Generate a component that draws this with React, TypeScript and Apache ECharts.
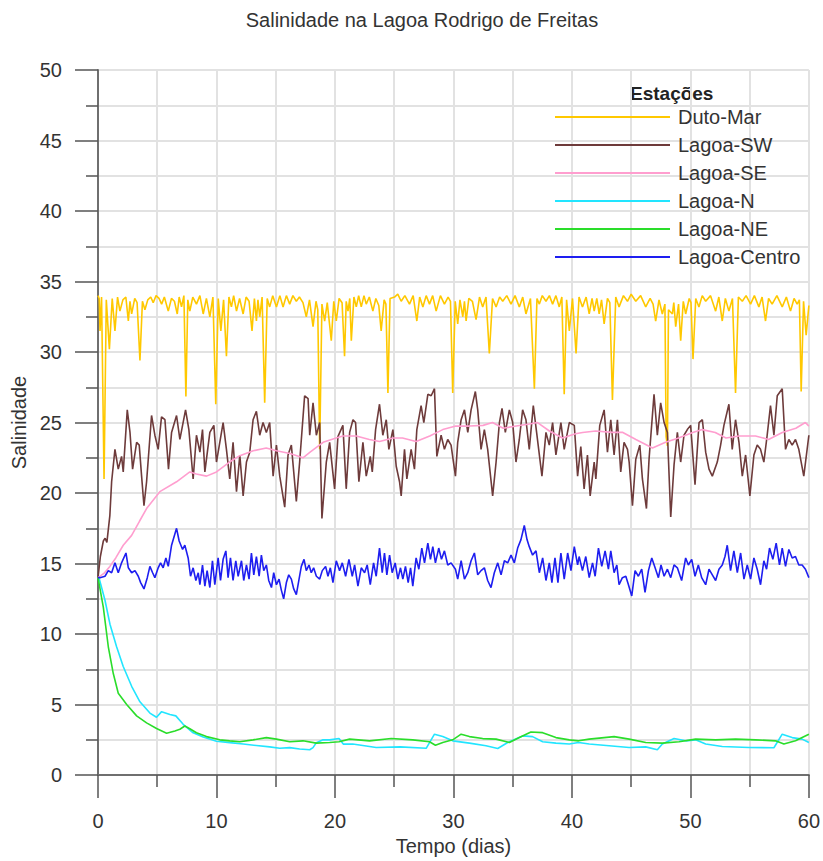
import React, { useEffect, useRef } from "react";
import * as echarts from "echarts";

const TITLE = "Salinidade na Lagoa Rodrigo de Freitas";
const LEGEND_TITLE = "Estações";
const X_NAME = "Tempo (dias)";
const Y_NAME = "Salinidade";
const SERIES_NAMES = ["Duto-Mar", "Lagoa-SW", "Lagoa-SE", "Lagoa-N", "Lagoa-NE", "Lagoa-Centro"];
const SERIES_COLORS = ["#FFC800", "#6E3B3B", "#FF9ECF", "#22E5FF", "#2ADD2A", "#1E1EF0"];

// [tempo (dias), salinidade]
const dutoMar: number[][] = [
  [0, 34.0], [0.1, 33.8], [0.17, 31.5], [0.3, 33.9], [0.51, 21.0], [0.7, 33.7], [0.96, 30.2], [1.2, 33.8], [1.43, 31.5], [1.65, 33.9],
  [1.85, 32.9], [2.1, 33.7], [2.35, 33.9], [2.56, 32.2], [2.7, 33.6], [2.84, 32.7], [3.1, 33.8], [3.3, 33.5], [3.54, 29.4], [3.75, 33.6],
  [3.96, 33.0], [4.2, 33.7], [4.45, 33.9], [4.66, 33.5], [4.9, 34.0], [5.15, 33.8], [5.37, 33.4], [5.6, 33.9], [5.93, 32.9], [6.2, 33.8],
  [6.45, 33.6], [6.69, 32.7], [6.85, 33.9], [7.05, 33.2], [7.25, 34.0], [7.42, 26.85], [7.58, 33.7], [7.75, 32.9], [8.0, 33.9], [8.31, 33.4],
  [8.6, 34.0], [8.88, 32.7], [9.15, 33.8], [9.44, 32.5], [9.7, 33.9], [9.94, 26.3], [10.15, 33.8], [10.37, 31.5], [10.6, 33.7], [10.84, 29.7],
  [11.05, 33.9], [11.26, 33.2], [11.45, 34.0], [11.69, 32.9], [11.95, 33.8], [12.25, 32.7], [12.5, 33.9], [12.75, 33.6], [13.0, 31.5], [13.2, 33.8],
  [13.37, 32.2], [13.5, 33.7], [13.65, 32.5], [13.85, 33.9], [14.07, 26.4], [14.28, 33.8], [14.49, 33.2], [14.75, 34.0], [15.06, 33.2], [15.35, 34.0],
  [15.62, 33.2], [15.9, 34.0], [16.18, 33.4], [16.45, 34.0], [16.74, 33.6], [17.0, 33.9], [17.3, 33.5], [17.58, 32.5], [17.85, 33.7], [18.15, 31.8],
  [18.4, 33.6], [18.55, 33.0], [18.71, 23.1], [18.9, 33.4], [19.13, 32.2], [19.35, 33.5], [19.69, 30.8], [19.9, 33.6], [20.11, 32.2], [20.35, 33.8],
  [20.6, 33.5], [20.81, 29.7], [20.95, 33.6], [21.1, 32.9], [21.25, 33.8], [21.38, 30.8], [21.6, 33.9], [21.8, 33.2], [22.0, 34.0], [22.22, 33.2],
  [22.45, 34.0], [22.64, 33.4], [22.9, 33.9], [23.2, 32.9], [23.45, 33.8], [23.7, 33.3], [23.9, 31.5], [24.15, 33.7], [24.3, 33.4], [24.47, 27.1],
  [24.65, 33.8], [25.03, 33.9], [25.3, 34.1], [25.59, 33.6], [25.9, 34.0], [26.29, 33.4], [26.6, 34.0], [26.91, 32.2], [27.15, 33.9], [27.42, 33.2],
  [27.7, 34.0], [27.98, 33.4], [28.25, 34.0], [28.54, 32.9], [28.9, 34.0], [29.24, 33.4], [29.55, 33.9], [29.75, 33.6], [29.94, 27.1], [30.15, 33.6],
  [30.36, 32.0], [30.55, 33.7], [30.79, 32.5], [30.93, 33.6], [31.07, 32.2], [31.3, 33.8], [31.6, 33.6], [31.91, 32.3], [32.2, 33.9], [32.47, 33.2],
  [32.75, 33.9], [33.03, 29.9], [33.3, 33.8], [33.6, 33.2], [33.9, 33.9], [34.16, 33.6], [34.5, 34.0], [34.86, 33.4], [35.2, 34.0], [35.56, 33.2],
  [35.85, 33.9], [36.12, 32.7], [36.5, 33.8], [36.83, 27.4], [37.05, 33.8], [37.25, 33.4], [37.5, 34.0], [37.81, 33.6], [38.1, 34.0], [38.37, 33.4],
  [38.65, 34.0], [38.93, 33.2], [39.15, 33.9], [39.35, 27.0], [39.55, 33.7], [39.78, 31.5], [40.05, 33.8], [40.35, 29.9], [40.6, 33.9], [40.89, 33.2],
  [41.2, 33.9], [41.46, 32.7], [41.7, 33.8], [41.88, 32.9], [42.1, 33.8], [42.3, 32.7], [42.5, 33.7], [42.72, 32.0], [43.0, 33.8], [43.2, 33.5],
  [43.42, 26.6], [43.7, 33.9], [43.98, 33.2], [44.35, 34.0], [44.69, 33.6], [45.0, 34.1], [45.39, 33.6], [45.8, 34.0], [46.23, 33.2], [46.6, 33.8],
  [46.85, 33.4], [47.07, 32.2], [47.35, 33.7], [47.63, 32.7], [47.85, 33.4], [47.95, 24.0], [48.06, 23.35], [48.15, 33.0], [48.48, 32.7], [48.6, 33.5],
  [48.76, 31.8], [49.0, 33.4], [49.18, 30.8], [49.4, 33.6], [49.6, 32.7], [49.9, 33.8], [50.05, 33.5], [50.22, 29.5], [50.45, 33.8], [50.72, 33.2],
  [51.0, 34.0], [51.29, 33.6], [51.7, 34.0], [52.13, 32.9], [52.4, 33.9], [52.69, 32.2], [52.95, 33.8], [53.25, 32.9], [53.55, 33.8], [53.81, 27.1],
  [54.05, 33.9], [54.38, 33.6], [54.7, 34.0], [55.08, 33.4], [55.4, 34.0], [55.78, 33.2], [56.05, 33.9], [56.34, 32.2], [56.6, 33.8], [56.9, 33.4],
  [57.3, 34.0], [57.75, 33.2], [58.1, 33.9], [58.45, 32.9], [58.75, 33.8], [59.01, 33.4], [59.2, 33.7], [59.35, 27.2], [59.55, 33.6], [59.77, 31.2],
  [60, 33.3],
];

const lagoaSW: number[][] = [
  [0, 14], [0.2, 15.5], [0.45, 16.6], [0.6, 16.8], [0.75, 16.5], [1.0, 18.4], [1.15, 20.8], [1.43, 23.1], [1.71, 21.7], [1.99, 22.6],
  [2.13, 21.5], [2.47, 25.9], [2.7, 24.3], [2.92, 21.7], [3.26, 23.6], [3.48, 23.4], [3.68, 21.2], [3.88, 19.1], [4.1, 20.8], [4.52, 25.5],
  [4.8, 24.1], [5.08, 23.1], [5.36, 25.4], [5.65, 25.2], [5.95, 21.7], [6.21, 24.3], [6.63, 25.5], [6.91, 23.8], [7.39, 25.9], [7.67, 24.5],
  [8.03, 21.0], [8.31, 24.1], [8.6, 22.9], [8.82, 24.5], [9.02, 21.5], [9.44, 24.3], [9.78, 24.8], [10.0, 22.2], [10.56, 25.0], [10.84, 23.1],
  [11.12, 21.0], [11.4, 23.6], [11.69, 20.1], [11.97, 22.7], [12.25, 19.8], [12.53, 22.2], [12.81, 22.9], [13.09, 25.2], [13.37, 25.8], [13.65, 24.1],
  [13.93, 25.0], [14.21, 24.3], [14.49, 25.0], [14.78, 21.2], [15.06, 23.4], [15.34, 21.2], [15.76, 19.0], [16.04, 22.7], [16.32, 23.4], [16.74, 19.4],
  [17.02, 22.2], [17.44, 26.9], [17.73, 26.7], [17.87, 24.1], [18.15, 26.4], [18.43, 24.1], [18.71, 25.0], [18.9, 18.2], [19.27, 22.2], [19.55, 23.6],
  [19.97, 20.3], [20.25, 24.0], [20.67, 24.8], [20.95, 20.3], [21.24, 24.3], [21.52, 25.2], [21.74, 25.0], [22.02, 20.8], [22.36, 23.6], [22.64, 21.2],
  [22.98, 22.6], [23.15, 21.5], [23.43, 24.5], [23.76, 26.3], [24.04, 24.1], [24.33, 25.2], [24.55, 23.1], [24.89, 24.5], [25.17, 21.9], [25.45, 20.8],
  [25.59, 19.8], [25.87, 23.1], [26.07, 21.0], [26.43, 23.1], [26.71, 21.7], [26.91, 24.5], [27.27, 26.2], [27.5, 25.0], [27.84, 27.0], [28.12, 26.9],
  [28.4, 27.4], [28.6, 22.6], [28.96, 24.1], [29.24, 23.1], [29.52, 23.8], [29.8, 23.4], [30.17, 21.2], [30.36, 23.6], [30.65, 25.2], [30.93, 25.9],
  [31.21, 24.3], [31.49, 25.9], [31.85, 27.2], [32.05, 25.9], [32.33, 23.1], [32.61, 24.5], [32.89, 23.1], [33.31, 19.8], [33.6, 22.2], [33.88, 25.0],
  [34.1, 26.0], [34.38, 24.3], [34.72, 25.9], [35.0, 25.0], [35.28, 22.2], [35.56, 23.8], [35.84, 25.9], [36.12, 25.2], [36.4, 23.1], [36.74, 26.2],
  [37.02, 24.3], [37.47, 21.2], [37.81, 24.3], [38.09, 23.4], [38.37, 25.0], [38.65, 22.7], [39.07, 25.0], [39.35, 23.1], [39.78, 25.0], [40.2, 24.8],
  [40.48, 21.2], [40.75, 23.3], [41.03, 20.3], [41.31, 22.7], [41.54, 19.8], [41.88, 22.2], [42.02, 21.0], [42.35, 24.8], [42.72, 25.9], [43.0, 22.9],
  [43.28, 25.2], [43.56, 22.7], [43.84, 25.2], [44.12, 21.5], [44.4, 23.6], [44.69, 23.1], [44.83, 22.2], [45.11, 19.1], [45.39, 22.4], [45.73, 23.4],
  [45.95, 21.0], [46.29, 18.9], [46.51, 22.4], [46.93, 27.0], [47.21, 24.1], [47.49, 26.4], [47.78, 25.0], [48.06, 24.3], [48.34, 18.3], [48.62, 22.0],
  [48.9, 24.3], [49.18, 22.2], [49.46, 24.1], [49.74, 24.5], [50.02, 24.8], [50.39, 20.6], [50.73, 25.0], [51.01, 25.2], [51.29, 22.9], [51.57, 21.7],
  [51.85, 21.2], [52.27, 22.2], [52.55, 23.4], [52.83, 24.8], [53.25, 26.3], [53.53, 23.1], [53.81, 25.2], [54.1, 23.6], [54.38, 21.2], [54.66, 22.7],
  [55.02, 19.8], [55.36, 22.7], [55.64, 23.4], [55.92, 23.1], [56.2, 22.2], [56.48, 24.1], [56.76, 26.2], [57.05, 24.1], [57.33, 26.9], [57.75, 27.4],
  [58.03, 23.1], [58.31, 23.8], [58.59, 23.4], [58.87, 23.8], [59.15, 23.1], [59.57, 21.2], [60, 24.1],
];

const lagoaSE: number[][] = [
  [0, 14], [0.5, 14.3], [1, 14.8], [1.5, 15.4], [2.13, 16.3], [2.84, 17.0], [3.5, 18.0], [4.1, 18.9], [5.22, 20.1], [6.63, 20.8],
  [7.75, 21.5], [8.3, 21.35], [9.16, 21.2], [10, 21.5], [11.1, 22.2], [11.97, 22.65], [13.1, 23.0], [14.2, 23.2], [15.06, 23.0], [16.2, 22.8],
  [17.3, 22.5], [17.9, 22.9], [19, 23.6], [20.1, 23.9], [20.67, 24.05], [21.8, 24.05], [22.9, 23.8], [23.76, 23.65], [24.9, 23.9], [25.7, 23.9],
  [26.85, 23.65], [28, 24.05], [29.1, 24.5], [30.2, 24.75], [31.35, 24.75], [32.5, 24.8], [33.3, 25.0], [34.2, 24.6], [35.3, 24.75], [36.4, 24.9],
  [37.1, 25.0], [38.1, 24.4], [39.2, 23.9], [40.3, 24.2], [40.9, 24.3], [42.0, 24.4], [43.4, 24.3], [44.3, 24.3], [45.4, 23.8], [46.8, 23.2],
  [47.9, 23.6], [49.0, 23.9], [50.2, 24.3], [51.0, 24.5], [52.1, 24.3], [53, 23.9], [54.1, 24.05], [55.5, 24.05], [56.6, 23.8], [57.75, 24.3],
  [58.9, 24.6], [59.7, 25.0], [60, 24.75],
];

const lagoaN: number[][] = [
  [0, 14], [0.11, 13.9], [0.59, 12.4], [1.01, 10.7], [1.57, 9.1], [2.13, 7.7], [2.84, 6.3], [3.54, 5.2], [4.38, 4.4], [4.94, 4.1],
  [5.37, 4.5], [6.07, 4.3], [6.57, 4.2], [7.19, 3.6], [8.03, 3.0], [8.88, 2.7], [10.0, 2.4], [11.12, 2.3], [12.25, 2.2], [13.37, 2.1],
  [14.49, 2.0], [15.34, 1.9], [16.18, 1.95], [17.02, 1.85], [17.87, 1.8], [18.15, 1.95], [18.43, 2.3], [18.99, 2.5], [19.55, 2.5], [20.34, 2.6],
  [20.7, 2.2], [21.5, 2.2], [23.48, 1.96], [25.5, 2.0], [27.7, 1.9], [27.98, 2.3], [28.4, 2.9], [29.1, 2.73], [29.94, 2.43], [31.35, 2.27],
  [32.75, 2.08], [33.74, 1.89], [34.58, 2.31], [35.84, 2.78], [36.68, 2.73], [37.53, 2.36], [38.65, 2.27], [39.78, 2.2], [40.56, 2.31], [41.46, 2.2],
  [43.14, 2.08], [44.83, 1.96], [46.23, 2.0], [47.21, 1.8], [47.63, 2.2], [48.62, 2.59], [49.6, 2.43], [50.44, 2.5], [51.29, 2.2], [52.69, 2.03],
  [54.94, 1.96], [57.05, 1.94], [57.75, 2.9], [58.59, 2.66], [59.43, 2.55], [60, 2.31],
];

const lagoaNE: number[][] = [
  [0, 14], [0.45, 11.9], [0.87, 9.1], [1.29, 7.2], [1.71, 5.8], [2.42, 5.0], [3.26, 4.2], [4.1, 3.7], [4.94, 3.3], [5.79, 2.97],
  [6.49, 3.13], [6.91, 3.25], [7.33, 3.48], [7.75, 3.29], [8.31, 3.0], [9.16, 2.73], [10.28, 2.5], [11.12, 2.43], [11.97, 2.36], [13.09, 2.5],
  [14.21, 2.66], [15.06, 2.55], [16.18, 2.36], [17.3, 2.43], [18.43, 2.27], [19.55, 2.31], [20.34, 2.36], [21.24, 2.55], [22.92, 2.43], [24.75, 2.59],
  [26.57, 2.5], [27.98, 2.36], [28.48, 2.12], [29.1, 2.31], [29.94, 2.5], [30.65, 2.9], [31.35, 2.73], [32.47, 2.59], [33.6, 2.55], [34.72, 2.31],
  [35.56, 2.66], [36.54, 3.06], [37.53, 3.01], [38.65, 2.66], [39.78, 2.5], [40.56, 2.43], [41.46, 2.55], [43.56, 2.73], [44.83, 2.55], [46.23, 2.31],
  [47.63, 2.27], [49.04, 2.36], [50.44, 2.55], [52.13, 2.5], [53.81, 2.55], [55.5, 2.5], [57.19, 2.43], [57.89, 2.2], [58.87, 2.43], [60, 2.9],
];

const lagoaCentro: number[][] = [
  [0, 14.0], [0.17, 14.0], [0.59, 14.1], [0.87, 14.5], [1.15, 14.35], [1.43, 15.05], [1.71, 14.35], [1.99, 15.05], [2.36, 15.75], [2.56, 14.7],
  [2.84, 14.35], [3.12, 14.5], [3.4, 14.1], [3.6, 13.65], [3.88, 13.2], [4.16, 14.0], [4.38, 14.8], [4.61, 14.35], [4.8, 14.0], [5.08, 14.7],
  [5.28, 15.05], [5.5, 14.7], [5.73, 15.4], [5.93, 14.8], [6.21, 16.3], [6.63, 17.5], [6.85, 16.6], [7.14, 16.0], [7.33, 16.3], [7.61, 15.4],
  [7.81, 14.1], [8.03, 14.7], [8.26, 13.8], [8.46, 14.35], [8.6, 13.5], [8.82, 14.9], [9.02, 13.4], [9.21, 14.5], [9.44, 13.3], [9.66, 15.2],
  [9.86, 13.5], [10.14, 15.4], [10.34, 13.8], [10.56, 15.3], [10.79, 15.9], [10.98, 14.0], [11.18, 15.4], [11.4, 13.8], [11.63, 15.2], [11.83, 14.1],
  [12.11, 15.2], [12.3, 13.8], [12.53, 14.9], [12.75, 13.9], [12.95, 15.75], [13.15, 14.2], [13.37, 15.5], [13.6, 14.1], [13.79, 15.6], [13.99, 14.5],
  [14.21, 14.9], [14.41, 13.8], [14.64, 13.3], [14.83, 14.35], [15.06, 13.5], [15.28, 13.9], [15.48, 13.1], [15.67, 12.5], [15.9, 13.65], [16.1, 14.2],
  [16.32, 13.9], [16.52, 13.2], [16.74, 12.8], [16.97, 13.9], [17.16, 14.8], [17.39, 15.3], [17.58, 14.5], [17.81, 14.9], [18.0, 14.35], [18.2, 14.7],
  [18.43, 14.1], [18.71, 13.9], [18.93, 14.5], [19.21, 14.8], [19.41, 14.1], [19.61, 14.7], [19.83, 13.65], [20.11, 15.2], [20.39, 14.5], [20.62, 15.05],
  [20.9, 14.1], [21.18, 15.3], [21.46, 14.1], [21.66, 14.9], [21.94, 13.4], [22.22, 14.7], [22.5, 14.35], [22.72, 14.9], [22.98, 13.5], [23.26, 15.05],
  [23.48, 14.1], [23.76, 16.1], [23.99, 14.35], [24.18, 15.75], [24.38, 14.2], [24.61, 15.6], [24.83, 14.35], [25.08, 15.05], [25.31, 13.9], [25.53, 14.7],
  [25.73, 13.9], [25.95, 14.8], [26.18, 13.65], [26.38, 14.7], [26.57, 13.4], [26.85, 15.4], [27.08, 14.6], [27.33, 16.1], [27.56, 15.05], [27.84, 16.45],
  [28.06, 15.3], [28.26, 16.2], [28.48, 15.05], [28.76, 16.1], [28.99, 15.3], [29.24, 15.9], [29.52, 14.9], [29.8, 15.05], [30.17, 14.6], [30.36, 13.9],
  [30.65, 15.2], [30.93, 13.9], [31.21, 14.35], [31.49, 15.2], [31.77, 15.75], [32.05, 14.2], [32.33, 14.5], [32.61, 14.7], [32.89, 13.8], [33.17, 13.3],
  [33.45, 14.35], [33.74, 15.05], [34.02, 14.2], [34.3, 15.2], [34.58, 15.05], [34.86, 15.6], [35.14, 15.05], [35.42, 16.1], [35.7, 16.7], [35.98, 17.7],
  [36.21, 16.7], [36.4, 16.2], [36.68, 15.6], [36.97, 15.9], [37.25, 14.35], [37.53, 15.4], [37.81, 13.8], [38.09, 15.05], [38.31, 13.65], [38.57, 15.4],
  [38.82, 13.65], [39.07, 15.75], [39.35, 13.9], [39.64, 15.75], [39.92, 14.5], [40.2, 16.2], [40.48, 14.9], [40.61, 15.5], [40.89, 14.5], [41.17, 15.5],
  [41.46, 14.0], [41.74, 15.05], [41.96, 14.1], [42.24, 16.1], [42.52, 14.8], [42.8, 15.9], [43.08, 14.6], [43.28, 15.9], [43.56, 14.35], [43.79, 14.9],
  [43.98, 13.5], [44.26, 14.0], [44.55, 14.1], [44.77, 13.5], [45.05, 12.7], [45.33, 14.5], [45.61, 14.1], [45.89, 14.6], [46.17, 12.95], [46.46, 14.5],
  [46.74, 15.4], [47.02, 14.7], [47.3, 14.0], [47.52, 14.9], [47.78, 14.1], [48.06, 14.6], [48.34, 14.0], [48.62, 14.9], [48.9, 14.7], [49.26, 13.8],
  [49.6, 15.4], [49.83, 14.9], [50.11, 15.3], [50.39, 14.1], [50.67, 14.9], [50.95, 14.0], [51.29, 13.5], [51.57, 14.6], [51.85, 14.2], [52.13, 13.8],
  [52.41, 14.6], [52.69, 14.9], [52.92, 15.5], [53.11, 16.3], [53.39, 14.5], [53.67, 15.9], [53.96, 14.35], [54.24, 15.75], [54.52, 13.9], [54.8, 14.9],
  [55.08, 13.9], [55.36, 15.4], [55.64, 14.6], [55.92, 13.5], [56.2, 15.2], [56.43, 14.6], [56.68, 16.1], [56.96, 15.3], [57.24, 16.45], [57.52, 14.9],
  [57.75, 16.1], [58.03, 14.8], [58.31, 16.0], [58.59, 15.4], [58.87, 15.5], [59.15, 14.9], [59.43, 14.9], [59.71, 14.6], [60, 14.0],
];

const SERIES_DATA = [dutoMar, lagoaSW, lagoaSE, lagoaN, lagoaNE, lagoaCentro];

const FONT = "'Liberation Sans', Arial, Helvetica, sans-serif";
const TEXT_COLOR = "#333333";
const GRID_COLOR = "#e2e2e2";
const AXIS_COLOR = "#6f6f6f";

export default function App() {
  const ref = useRef<HTMLDivElement>(null);

  useEffect(() => {
    if (!ref.current) return;
    const chart = echarts.init(ref.current, undefined, { renderer: "svg", width: 823, height: 861 });
    const axisCommon = {
      type: "value" as const,
      axisLine: { show: true, lineStyle: { color: AXIS_COLOR, width: 2 } },
      axisTick: { show: true, inside: false, length: 23, lineStyle: { color: "#555", width: 1.5 } },
      minorTick: { show: true, splitNumber: 2, length: 12, lineStyle: { color: "#555", width: 1.5 } },
      splitLine: { show: true, lineStyle: { color: GRID_COLOR, width: 2 } },
      minorSplitLine: { show: true, lineStyle: { color: GRID_COLOR, width: 2 } },
      nameLocation: "middle" as const,
      nameTextStyle: { fontFamily: FONT, fontSize: 20, color: TEXT_COLOR },
    };
    chart.setOption({
      animation: false,
      backgroundColor: "#ffffff",
      textStyle: { fontFamily: FONT },
      title: {
        text: TITLE,
        left: 417,
        top: 5,
        textAlign: "center",
        textStyle: { fontFamily: FONT, fontSize: 20, fontWeight: "normal", color: TEXT_COLOR },
      },
      grid: { left: 98, top: 70, width: 712, height: 713, containLabel: false },
      xAxis: {
        ...axisCommon,
        min: 0,
        max: 60,
        interval: 10,
        name: X_NAME,
        nameGap: 52,
        axisLabel: { margin: 36, fontFamily: FONT, fontSize: 20, color: TEXT_COLOR },
      },
      yAxis: {
        ...axisCommon,
        min: 0,
        max: 50,
        interval: 5,
        name: Y_NAME,
        nameGap: 66,
        axisLabel: { margin: 36, fontFamily: FONT, fontSize: 20, color: TEXT_COLOR },
      },
      legend: {
        orient: "vertical",
        left: 550,
        top: 102,
        itemWidth: 115,
        itemHeight: 2,
        itemGap: 8,
        icon: "rect",
        textStyle: { fontFamily: FONT, fontSize: 20, color: TEXT_COLOR, padding: [0, 0, 0, 3], lineHeight: 20 },
        data: SERIES_NAMES,
      },
      graphic: [
        {
          type: "text",
          left: 630,
          top: 84,
          style: {
            text: LEGEND_TITLE,
            font: `bold 19px ${FONT}`,
            fill: "#222",
          },
        },
      ],
      series: SERIES_NAMES.map((name, i) => ({
        name,
        type: "line",
        data: SERIES_DATA[i],
        symbol: "none",
        showSymbol: false,
        clip: true,
        lineStyle: { color: SERIES_COLORS[i], width: 1.6 },
        itemStyle: { color: SERIES_COLORS[i] },
      })),
    });
    return () => chart.dispose();
  }, []);

  return (
    <div
      ref={ref}
      style={{ position: "fixed", left: 0, top: 0, width: 823, height: 861, background: "#fff" }}
    />
  );
}
